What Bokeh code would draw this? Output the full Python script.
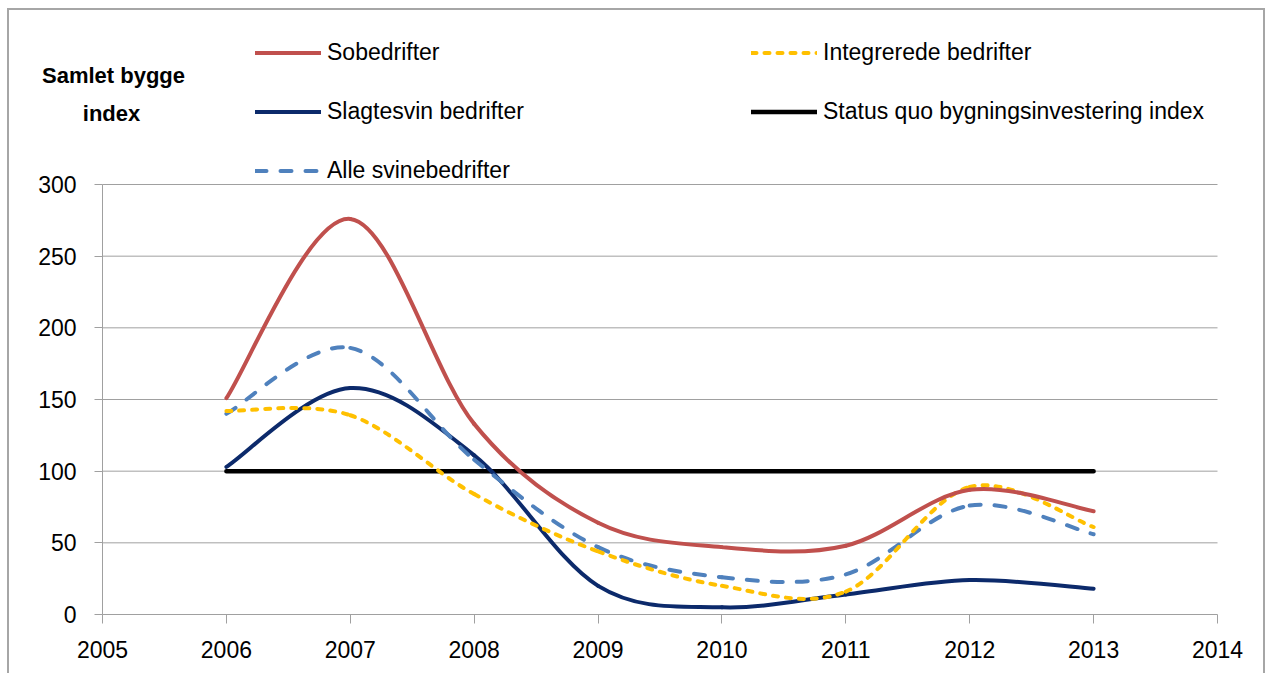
from bokeh.plotting import figure
from bokeh.models import (Legend, LegendItem, Label, SingleIntervalTicker, Range1d)
from bokeh.embed import file_html
from bokeh.resources import INLINE

# ---- data ----
years = [2006, 2007, 2008, 2009, 2010, 2011, 2012, 2013]
sobedrifter = [151, 276, 133, 64, 47, 48, 87, 72]
integrerede = [142, 139, 84, 44, 20, 16, 89, 61]
slagtesvin = [103, 158, 111, 20, 5, 14, 24, 18]
alle_svin = [140, 186, 108, 47, 26, 28, 76, 56]
status_quo = [100, 100, 100, 100, 100, 100, 100, 100]

series_names = ["Sobedrifter", "Integrerede bedrifter", "Slagtesvin bedrifter",
                "Status quo bygningsinvestering index", "Alle svinebedrifter"]
y_title = ["Samlet bygge", "index"]
x_min, x_max, x_step = 2005, 2014, 1
y_min, y_max, y_step = 0, 300, 50

FONT = "Liberation Sans"
GRID = "#a0a0a0"
TXT = "23px"

# Page geometry of the reference: x 2005 -> 102px, 2014 -> 1217px ; y 0 -> 614px, 300 -> 184px
# The frame covers the whole canvas (page x 9..1267, y 10..675) so nothing is clipped.
PX_X = (1217 - 102) / (x_max - x_min)
PX_Y = (614 - 184) / (y_max - y_min)
CAN_L, CAN_T, CAN_R, CAN_B = 9, 10, 1267, 675
xr = Range1d(x_min - (102 - CAN_L) / PX_X, x_max + (CAN_R - 1217) / PX_X)
yr = Range1d(y_min - (CAN_B - 614) / PX_Y, y_max + (184 - CAN_T) / PX_Y)

p = figure(width=CAN_R - CAN_L, height=CAN_B - CAN_T, output_backend="svg",
           toolbar_location=None, x_range=xr, y_range=yr,
           min_border_left=0, min_border_right=0, min_border_top=0, min_border_bottom=0)
p.styles = {"margin-left": "7px", "margin-top": "8px",
            "border-top": "2px solid #a6a6a6", "border-left": "2px solid #a6a6a6",
            "border-right": "2px solid #a6a6a6"}
p.outline_line_color = None
p.background_fill_color = "white"
p.border_fill_color = "white"
p.xgrid.grid_line_color = None
p.ygrid.grid_line_color = None

# axes drawn at fixed data locations inside the frame
xa, ya = p.xaxis[0], p.yaxis[0]
xa.fixed_location = y_min
ya.fixed_location = x_min
xa.bounds = (x_min, x_max)
ya.bounds = (y_min, y_max)
xa.ticker = SingleIntervalTicker(interval=x_step, num_minor_ticks=0)
ya.ticker = SingleIntervalTicker(interval=y_step, num_minor_ticks=0)
for ax in (xa, ya):
    ax.axis_line_color = GRID
    ax.axis_line_width = 1
    ax.major_tick_line_color = GRID
    ax.minor_tick_line_color = None
    ax.major_tick_in = 0
    ax.major_label_text_font = FONT
    ax.major_label_text_font_size = TXT
    ax.major_label_text_color = "#000000"
xa.major_tick_out = 9
ya.major_tick_out = 8
xa.major_label_standoff = 17
ya.major_label_standoff = 18

# horizontal gridlines between the axis bounds
grid_vals = list(range(y_min + y_step, y_max + 1, y_step))
p.segment(x0=[x_min] * len(grid_vals), x1=[x_max] * len(grid_vals),
          y0=grid_vals, y1=grid_vals, line_color=GRID, line_width=1)


def bezier_parts(xs, ys):
    """Control points of Excel-like smoothed segments between the data points."""
    n = len(xs)
    out = {k: [] for k in ("x0", "y0", "x1", "y1", "cx0", "cy0", "cx1", "cy1")}
    for i in range(n - 1):
        im = max(i - 1, 0)
        ip2 = min(i + 2, n - 1)
        out["x0"].append(xs[i]); out["y0"].append(ys[i])
        out["x1"].append(xs[i + 1]); out["y1"].append(ys[i + 1])
        out["cx0"].append(xs[i] + (xs[i + 1] - xs[im]) / 6.0)
        out["cy0"].append(ys[i] + (ys[i + 1] - ys[im]) / 6.0)
        out["cx1"].append(xs[i + 1] - (xs[ip2] - xs[i]) / 6.0)
        out["cy1"].append(ys[i + 1] - (ys[ip2] - ys[i]) / 6.0)
    return out


def smooth(values, color, width, dash="solid"):
    d = bezier_parts(years, values)
    return p.bezier(line_color=color, line_width=width, line_dash=dash,
                    line_cap="round", line_join="round", **d)


r_status = p.line(years, status_quo, line_color="#000000", line_width=4.5, line_cap="round")
r_slag = smooth(slagtesvin, "#0c2a6b", 4)
r_alle = smooth(alle_svin, "#4f81bd", 4, dash="11 14")
r_integ = smooth(integrerede, "#ffc000", 4, dash="5 8")
r_so = smooth(sobedrifter, "#c0504d", 4)

# legend: two columns, glyphs start at page x 255 and 752, rows at y 53 / 112 / 171
legend = Legend(items=[LegendItem(label=series_names[0], renderers=[r_so]),
                       LegendItem(label=series_names[2], renderers=[r_slag]),
                       LegendItem(label=series_names[4], renderers=[r_alle]),
                       LegendItem(label=series_names[1], renderers=[r_integ]),
                       LegendItem(label=series_names[3], renderers=[r_status])],
                orientation="vertical", nrows=3,
                location=(255 - CAN_L, CAN_B - 184), border_line_color=None,
                background_fill_alpha=0, padding=0, margin=0, glyph_width=66,
                glyph_height=27, label_height=27, label_width=392, label_standoff=6,
                spacing=32, label_text_font=FONT, label_text_font_size=TXT,
                label_text_color="#000000")
p.add_layout(legend, "center")

# y-axis title, two centred bold lines at the top-left
for text, cx, baseline in ((y_title[0], 113, 75), (y_title[1], 111, 113)):
    p.add_layout(Label(x=cx - CAN_L, y=CAN_B - baseline, x_units="screen", y_units="screen",
                       text=text, text_align="center", text_baseline="alphabetic",
                       text_font=FONT, text_font_size="22px", text_font_style="bold",
                       text_color="#000000"))

open("out.html", "w").write(file_html(p, INLINE))
